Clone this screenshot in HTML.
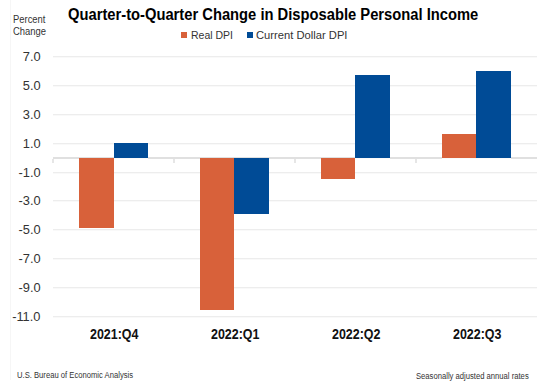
<!DOCTYPE html>
<html>
<head>
<meta charset="utf-8">
<style>
html,body{margin:0;padding:0;background:#fff;}
body{width:555px;height:391px;overflow:hidden;position:relative;font-family:"Liberation Sans",sans-serif;}
.t{position:absolute;white-space:nowrap;line-height:1;transform-origin:0 0;}
.g{position:absolute;left:53px;width:484px;height:1px;background:#ededed;box-shadow:0 1px 0 #f9f9f9;}
.yl{position:absolute;right:514.5px;font-size:12px;color:#333;line-height:1;white-space:nowrap;transform-origin:100% 0;transform:scaleX(1.07);}
.r{position:absolute;}
.xl{position:absolute;top:327.3px;font-weight:bold;font-size:14px;color:#111;line-height:1;white-space:nowrap;transform-origin:0 0;}
.tick{position:absolute;top:159px;width:2px;height:4px;background:#e6e6e6;}
</style>
</head>
<body>
<div class="r" style="left:10px;top:0;width:1px;height:380px;background:#f6f6f6;"></div>
<div class="t" style="left:67.81px;top:6.60px;font-size:15.60px;font-weight:bold;color:#000;transform:scaleX(0.945)">Quarter-to-Quarter Change in Disposable Personal Income</div>
<div class="t" style="left:12.60px;top:14.50px;font-size:10.00px;font-weight:normal;color:#333;transform:scaleX(0.940)">Percent</div>
<div class="t" style="left:13.10px;top:27.30px;font-size:10.00px;font-weight:normal;color:#333;transform:scaleX(0.940)">Change</div>
<div class="r" style="left:181px;top:32px;width:6px;height:6px;background:#d8613a;"></div>
<div class="t" style="left:190.66px;top:30.11px;font-size:10.57px;font-weight:normal;color:#333;transform:scaleX(0.993)">Real DPI</div>
<div class="r" style="left:247px;top:32px;width:6px;height:6px;background:#004b96;"></div>
<div class="t" style="left:256.24px;top:30.11px;font-size:10.57px;font-weight:normal;color:#333;transform:scaleX(1.060)">Current Dollar DPI</div>
<div class="g" style="top:56px"></div>
<div class="g" style="top:85px"></div>
<div class="g" style="top:114px"></div>
<div class="g" style="top:143px"></div>
<div class="g" style="top:172px"></div>
<div class="g" style="top:200px"></div>
<div class="g" style="top:229px"></div>
<div class="g" style="top:258px"></div>
<div class="g" style="top:287px"></div>
<div class="g" style="top:316px"></div>
<div class="r" style="left:53px;top:157px;width:484px;height:2px;background:#e0e0e0;"></div>
<div class="tick" style="left:52px"></div>
<div class="tick" style="left:173px"></div>
<div class="tick" style="left:294px"></div>
<div class="tick" style="left:415px"></div>
<div class="yl" style="top:51.19px">7.0</div>
<div class="yl" style="top:80.05px">5.0</div>
<div class="yl" style="top:108.91px">3.0</div>
<div class="yl" style="top:137.77px">1.0</div>
<div class="yl" style="top:166.63px">-1.0</div>
<div class="yl" style="top:195.49px">-3.0</div>
<div class="yl" style="top:224.35px">-5.0</div>
<div class="yl" style="top:253.21px">-7.0</div>
<div class="yl" style="top:282.07px">-9.0</div>
<div class="yl" style="top:310.93px">-11.0</div>
<div class="r" style="left:79px;top:158px;width:35px;height:70px;background:#d8613a"></div>
<div class="r" style="left:114px;top:158px;width:34px;height:1px;background:#fafafa"></div>
<div class="r" style="left:114px;top:143px;width:34px;height:15px;background:#004b96"></div>
<div class="r" style="left:200px;top:158px;width:34px;height:152px;background:#d8613a"></div>
<div class="r" style="left:234px;top:158px;width:35px;height:56px;background:#004b96"></div>
<div class="r" style="left:321px;top:158px;width:34px;height:21px;background:#d8613a"></div>
<div class="r" style="left:355px;top:158px;width:35px;height:1px;background:#fafafa"></div>
<div class="r" style="left:355px;top:75px;width:35px;height:83px;background:#004b96"></div>
<div class="r" style="left:442px;top:158px;width:34px;height:1px;background:#fafafa"></div>
<div class="r" style="left:442px;top:134px;width:34px;height:24px;background:#d8613a"></div>
<div class="r" style="left:476px;top:158px;width:35px;height:1px;background:#fafafa"></div>
<div class="r" style="left:476px;top:71px;width:35px;height:87px;background:#004b96"></div>
<div class="xl" style="left:90.03px;transform:scaleX(0.89)">2021:Q4</div>
<div class="xl" style="left:210.78px;transform:scaleX(0.89)">2022:Q1</div>
<div class="xl" style="left:331.63px;transform:scaleX(0.89)">2022:Q2</div>
<div class="xl" style="left:452.63px;transform:scaleX(0.89)">2022:Q3</div>
<div class="t" style="left:17.10px;top:371.30px;font-size:8.50px;font-weight:normal;color:#333;transform:scaleX(0.900)">U.S. Bureau of Economic Analysis</div>
<div class="t" style="left:415.50px;top:371.50px;font-size:8.50px;font-weight:normal;color:#333;transform:scaleX(0.900)">Seasonally adjusted annual rates</div>
</body>
</html>
